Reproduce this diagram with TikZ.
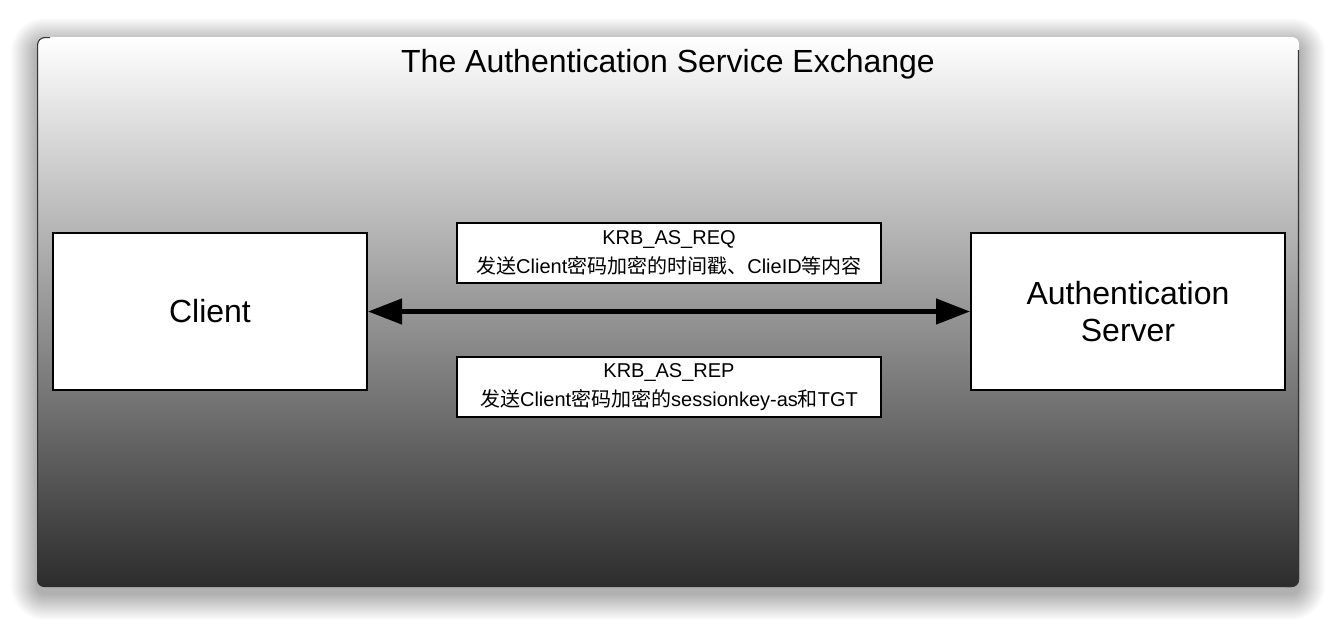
\documentclass[tikz,border=0pt]{standalone}
\usepackage{fontspec}
\setmainfont{Liberation Sans}
\newfontfamily\cjk{Noto Sans CJK SC}
\usetikzlibrary{arrows.meta}
\tikzset{
  bigbox/.style={draw=black, line width=2pt, fill=white, minimum width=314pt, minimum height=157pt, inner sep=0pt, align=center, font=\fontsize{32}{37}\selectfont},
  msgbox/.style={draw=black, line width=2pt, fill=white, minimum width=424pt, minimum height=60pt, inner sep=0pt, align=center, font=\fontsize{20}{29}\selectfont},
  conn/.style={line width=4.5pt, {Triangle[length=34pt,width=25pt]}-{Triangle[length=34pt,width=25pt]}}
}
\begin{document}
\begin{tikzpicture}[x=1pt,y=-1pt]
\useasboundingbox (0,0) rectangle (1336,624);
\fill[white] (0,0) rectangle (1336,624);
% soft shadow
\foreach \i in {1,...,26}{
  \fill[black, opacity=0.011, rounded corners={(8+\i)*1pt}] (37-\i,37-\i+7) rectangle (1299+\i,587+\i+7);
}
% panel
\shade[top color=white, bottom color={rgb,255:red,44;green,44;blue,44}, rounded corners=7pt] (37,37) rectangle (1299,587);
\draw[black!80, line width=1.2pt, rounded corners=7pt] (37.6,575) -- (37.6,37.6) -- (50,37.6);
\draw[black!80, line width=1.2pt, rounded corners=7pt] (1298.4,50) -- (1298.4,586.4) -- (1286,586.4);
\node (title) at (668,64) {\fontsize{32}{37}\selectfont The Authentication Service Exchange};
\node[bigbox] (client) at (210,311.5) {Client};
\node[bigbox] (server) at (1128,311.5) {Authentication\\Server};
\node[msgbox] (req) at (669,253) {KRB\_AS\_REQ\\{\cjk 发送}Client{\cjk 密码加密的时间戳、}ClieID{\cjk 等内容}};
\node[msgbox] (rep) at (669,387) {KRB\_AS\_REP\\{\cjk 发送}Client{\cjk 密码加密的}sessionkey-as{\cjk 和}TGT};
\draw[conn] (client.east) -- (server.west);
\end{tikzpicture}
\end{document}
